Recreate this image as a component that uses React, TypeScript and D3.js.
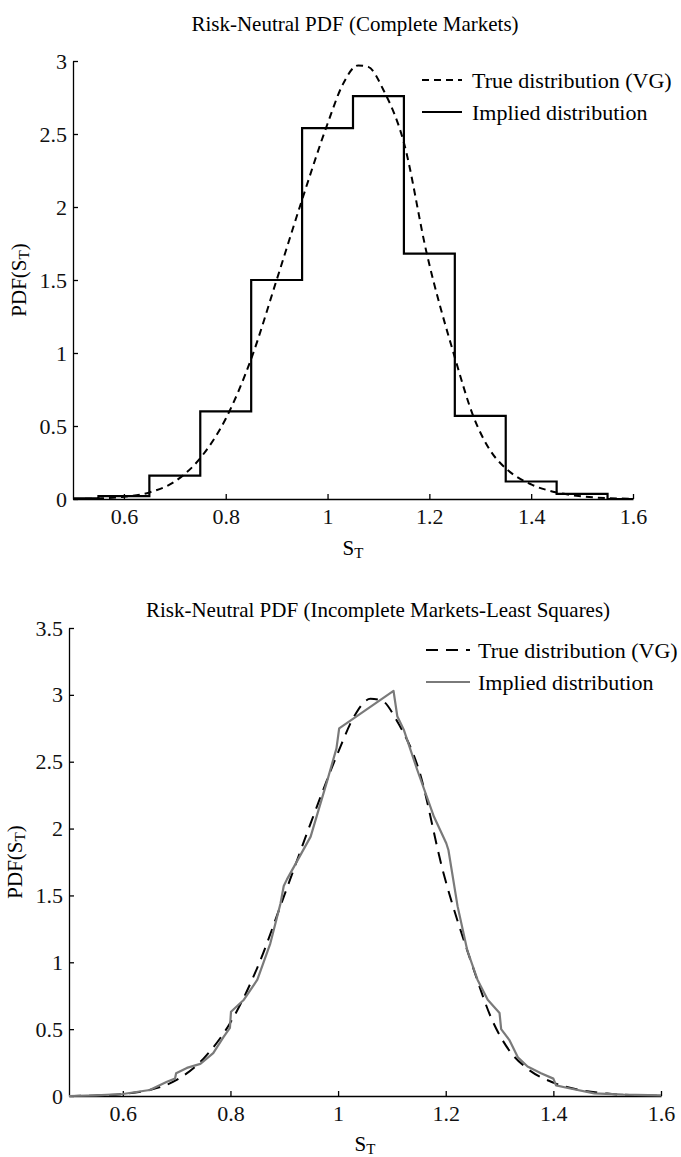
import React from "react";
import * as d3 from "d3";

const xTicks = [0.6, 0.8, 1, 1.2, 1.4, 1.6];
const yTicksTop = [0, 0.5, 1, 1.5, 2, 2.5, 3];
const yTicksBottom = [0, 0.5, 1, 1.5, 2, 2.5, 3, 3.5];

// implied distribution, complete markets (histogram bins)
const binEdges = [0.5, 0.55, 0.65, 0.75, 0.85, 0.95, 1.05, 1.15, 1.25, 1.35, 1.45, 1.55, 1.6];
const binHeights = [0.005, 0.02, 0.16, 0.6, 1.5, 2.54, 2.76, 1.68, 0.57, 0.12, 0.035, 0, 0];

// true distribution (VG)
const vgX = [0.5, 0.55, 0.6, 0.65, 0.7, 0.75, 0.8, 0.85, 0.9, 0.95, 1.0, 1.03, 1.06, 1.08, 1.11, 1.15, 1.195, 1.25, 1.286, 1.32, 1.35, 1.4, 1.45, 1.5, 1.55, 1.6];
const vgY = [0.0, 0.004, 0.015, 0.045, 0.12, 0.28, 0.55, 0.96, 1.5, 2.05, 2.57, 2.84, 2.97, 2.96, 2.8, 2.44, 1.68, 0.97, 0.57, 0.33, 0.21, 0.1, 0.045, 0.018, 0.006, 0.002];

// implied distribution, incomplete markets (least squares)
const impX = [0.5, 0.55, 0.6, 0.65, 0.682, 0.697, 0.699, 0.719, 0.744, 0.768, 0.787, 0.799, 0.801, 0.825, 0.85, 0.874, 0.893, 0.899, 0.905, 0.949, 0.98, 0.997, 1.002, 1.103, 1.11, 1.122, 1.147, 1.178, 1.201, 1.205, 1.222, 1.24, 1.259, 1.278, 1.3, 1.303, 1.318, 1.334, 1.352, 1.377, 1.4, 1.405, 1.427, 1.476, 1.53, 1.6];
const impY = [0.0, 0.005, 0.015, 0.045, 0.107, 0.13, 0.17, 0.21, 0.24, 0.32, 0.44, 0.51, 0.63, 0.72, 0.87, 1.14, 1.44, 1.57, 1.62, 1.94, 2.36, 2.6, 2.75, 3.03, 2.84, 2.74, 2.44, 2.09, 1.89, 1.84, 1.42, 1.09, 0.87, 0.72, 0.62, 0.5, 0.42, 0.29, 0.22, 0.17, 0.13, 0.08, 0.06, 0.02, 0.01, 0.005];

const FONT = "'Liberation Serif', 'Times New Roman', serif";

export default function App() {
    const ref = React.useRef(null);

    React.useEffect(() => {
        document.body.style.margin = "0";
        const svg = d3.select(ref.current);
        svg.selectAll("*").remove();

        drawPanel(svg, {
            x0: 73, x1: 633, yTop: 61, yBot: 499, yMax: 3, yTicks: yTicksTop,
            title: "Risk-Neutral PDF (Complete Markets)", titleX: 355, titleY: 24,
            lgLine: [422, 462], lgText: 472, lgY: [80, 112],
            dash: "7,5", impColor: "#000", yLabelX: 19, xLabelY: 548,
            kind: "step",
        });
        drawPanel(svg, {
            x0: 69, x1: 661, yTop: 628, yBot: 1096, yMax: 3.5, yTicks: yTicksBottom,
            title: "Risk-Neutral PDF (Incomplete Markets-Least Squares)", titleX: 378, titleY: 610,
            lgLine: [426, 470], lgText: 478, lgY: [650, 682],
            dash: "12,8", impColor: "#7a7a7a", yLabelX: 15, xLabelY: 1144,
            kind: "line",
        });
    }, []);

    function drawPanel(svg, c) {
        var x = d3.scaleLinear().domain([0.5, 1.6]).range([c.x0, c.x1]);
        var y = d3.scaleLinear().domain([0, c.yMax]).range([c.yBot, c.yTop]);

        var g = svg.append("g").style("font-family", FONT);

        // title
        g.append("text")
            .attr("x", c.titleX)
            .attr("y", c.titleY)
            .attr("text-anchor", "middle")
            .attr("dominant-baseline", "central")
            .attr("font-size", 21)
            .text(c.title);

        // axes, ticks pointing inward
        var xAxis = d3.axisBottom(x).tickValues(xTicks).tickFormat(d3.format("")).tickSizeInner(-5).tickSizeOuter(0).tickPadding(9);
        var yAxis = d3.axisLeft(y).tickValues(c.yTicks).tickFormat(d3.format("")).tickSizeInner(-5).tickSizeOuter(0).tickPadding(6);

        var xg = g.append("g").attr("transform", `translate(0,${c.yBot})`).call(xAxis);
        var yg = g.append("g").attr("transform", `translate(${c.x0},0)`).call(yAxis);
        [xg, yg].forEach((a) => {
            a.attr("font-family", FONT).attr("font-size", 22);
            a.selectAll("path,line").attr("stroke", "#000").attr("stroke-width", 1.3);
            a.selectAll("text").attr("fill", "#111");
        });

        // true distribution (dashed)
        var vg = vgX.map((d, i) => [d, vgY[i]]);
        g.append("path")
            .datum(vg)
            .attr("fill", "none")
            .attr("stroke", "#000")
            .attr("stroke-width", 2)
            .attr("stroke-dasharray", c.dash)
            .attr("d", d3.line().x((d) => x(d[0])).y((d) => y(d[1])).curve(d3.curveMonotoneX));

        // implied distribution
        if (c.kind === "step") {
            var steps = binEdges.map((d, i) => [d, binHeights[i]]);
            g.append("path")
                .datum(steps)
                .attr("fill", "none")
                .attr("stroke", c.impColor)
                .attr("stroke-width", 2.2)
                .attr("d", d3.line().x((d) => x(d[0])).y((d) => y(d[1])).curve(d3.curveStepAfter));
        } else {
            var imp = impX.map((d, i) => [d, impY[i]]);
            g.append("path")
                .datum(imp)
                .attr("fill", "none")
                .attr("stroke", c.impColor)
                .attr("stroke-width", 2.2)
                .attr("stroke-linejoin", "round")
                .attr("d", d3.line().x((d) => x(d[0])).y((d) => y(d[1])));
        }

        // legend
        var lg = g.append("g").attr("font-size", 22);
        lg.append("line")
            .attr("x1", c.lgLine[0]).attr("x2", c.lgLine[1])
            .attr("y1", c.lgY[0]).attr("y2", c.lgY[0])
            .attr("stroke", "#000").attr("stroke-width", 2)
            .attr("stroke-dasharray", c.dash);
        lg.append("line")
            .attr("x1", c.lgLine[0]).attr("x2", c.lgLine[1])
            .attr("y1", c.lgY[1]).attr("y2", c.lgY[1])
            .attr("stroke", c.impColor).attr("stroke-width", 2);
        lg.append("text").attr("x", c.lgText).attr("y", c.lgY[0]).attr("dominant-baseline", "central").text("True distribution (VG)");
        lg.append("text").attr("x", c.lgText).attr("y", c.lgY[1]).attr("dominant-baseline", "central").text("Implied distribution");

        // y label PDF(S_T)
        var yl = g.append("text")
            .attr("transform", `translate(${c.yLabelX},${(c.yTop + c.yBot) / 2}) rotate(-90)`)
            .attr("text-anchor", "middle")
            .attr("dominant-baseline", "central")
            .attr("font-size", 21);
        yl.append("tspan").text("PDF(S");
        yl.append("tspan").attr("dy", 5).attr("font-size", 15).text("T");
        yl.append("tspan").attr("dy", -5).text(")");

        // x label S_T
        var xl = g.append("text")
            .attr("x", (c.x0 + c.x1) / 2)
            .attr("y", c.xLabelY)
            .attr("text-anchor", "middle")
            .attr("dominant-baseline", "central")
            .attr("font-size", 21);
        xl.append("tspan").text("S");
        xl.append("tspan").attr("dy", 5).attr("font-size", 15).text("T");
    }

    return <svg ref={ref} width={681} height={1157} style={{ display: "block", background: "#fff" }} />;
}
